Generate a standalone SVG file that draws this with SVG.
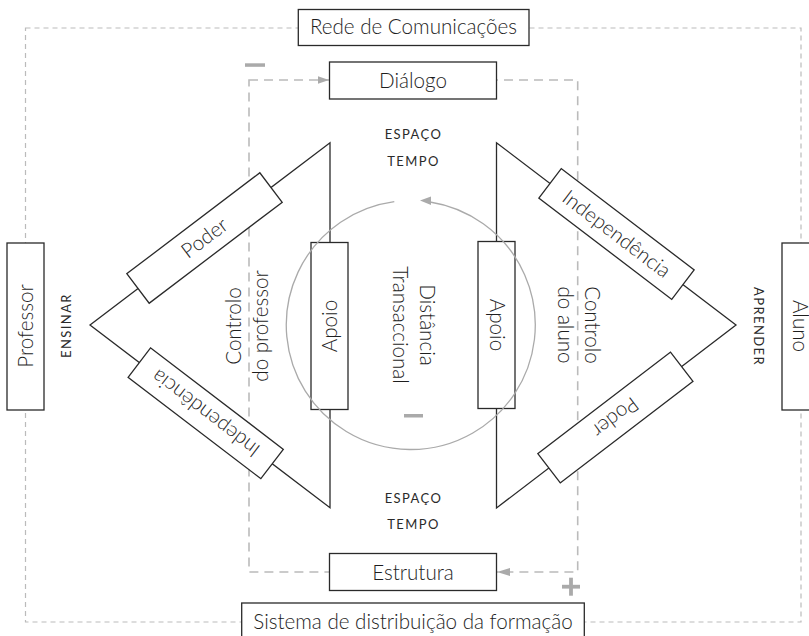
<svg xmlns="http://www.w3.org/2000/svg" width="809" height="636" viewBox="0 0 809 636">
<style>
.box{fill:#fff;stroke:#2a2a2a;stroke-width:1.3}
.t{font-family:Lato,"Liberation Sans",sans-serif;font-weight:300;font-size:20.6px;fill:#1e1e1e;text-anchor:middle}
.s{font-family:Lato,"Liberation Sans",sans-serif;font-size:13px;fill:#2a2a2a;text-anchor:middle;letter-spacing:1.4px}
.od{fill:none;stroke:#bbb;stroke-width:1.2;stroke-dasharray:5 4}
.id{fill:none;stroke:#bbb;stroke-width:1.6;stroke-dasharray:9 6}
.tri{fill:none;stroke:#2a2a2a;stroke-width:1.3}
.g{fill:#aaa}
.circ{fill:none;stroke:#aaa;stroke-width:1.3}
</style>
<rect width="809" height="636" fill="#fff"/>
<g id="connectors">
  <rect class="od" x="25.5" y="28" width="775.5" height="594"/>
  <rect class="id" x="249" y="80" width="328.7" height="492"/>
  <polygon class="g" points="329,80 318,76.3 318,83.7"/>
  <polygon class="g" points="497,572 510,568 510,576"/>
  <polygon class="tri" points="90,325 330,142.7 330,507.7"/>
  <polygon class="tri" points="736,325 496.5,142.7 496.5,508"/>
</g>
<g id="rede"><rect class="box" x="298.3" y="9.5" width="230.7" height="36"/><text class="t" x="413.5" y="34">Rede de Comunicações</text></g>
<g id="dialogo"><rect class="box" x="329.5" y="62" width="167" height="37"/><text class="t" x="413" y="88">Diálogo</text></g>
<g id="estrutura"><rect class="box" x="329.5" y="553.5" width="167" height="37"/><text class="t" x="413" y="579.5">Estrutura</text></g>
<g id="sistema"><rect class="box" x="241.7" y="603" width="342.6" height="37"/><text class="t" x="413" y="628.5">Sistema de distribuição da formação</text></g>
<g id="professor"><rect class="box" x="7" y="243" width="37" height="167"/><text class="t" transform="translate(33,326) rotate(-90)">Professor</text></g>
<g id="aluno"><rect class="box" x="782" y="243" width="37" height="167"/><text class="t" transform="translate(793,326) rotate(90)">Aluno</text></g>
<g id="poder-prof" transform="translate(204.5,238) rotate(-37.2)"><rect class="box" x="-83.5" y="-18.5" width="167" height="37"/><text class="t" y="7">Poder</text></g>
<g id="indep-prof" transform="translate(205.7,413.3) rotate(-142.64)"><rect class="box" x="-83.5" y="-18.5" width="167" height="37"/><text class="t" y="7">Independência</text></g>
<g id="indep-aluno" transform="translate(616.5,234) rotate(37.28)"><rect class="box" x="-83.5" y="-18.5" width="167" height="37"/><text class="t" y="7">Independência</text></g>
<g id="poder-aluno" transform="translate(615.4,417.5) rotate(142.6)"><rect class="box" x="-83.5" y="-18.5" width="167" height="37"/><text class="t" y="7">Poder</text></g>
<g id="apoio-prof"><rect class="box" x="311" y="242.5" width="37" height="167"/><text class="t" transform="translate(336.5,326) rotate(-90)">Apoio</text></g>
<g id="apoio-aluno"><rect class="box" x="478" y="241.5" width="37" height="167"/><text class="t" transform="translate(490,325) rotate(90)">Apoio</text></g>
<g id="distancia">
  <path class="circ" d="M430,202 A124.5,124.5 0 1 1 394.3,201.6"/>
  <polygon class="g" points="420,200.5 431,196.5 431,205"/>
  <text class="t" transform="translate(419.5,325) rotate(90)"><tspan x="0" y="0">Distância</tspan><tspan x="0" y="26.7">Transaccional</tspan></text>
  <rect class="g" x="404" y="414" width="19" height="3.5"/>
</g>
<g id="controlo-prof"><text class="t" transform="translate(241,326) rotate(-90)"><tspan x="0" y="0">Controlo</tspan><tspan x="0" y="26.5">do professor</tspan></text></g>
<g id="controlo-aluno"><text class="t" transform="translate(585,325) rotate(90)"><tspan x="0" y="0">Controlo</tspan><tspan x="0" y="27">do aluno</tspan></text></g>
<g id="ensinar"><text class="s" transform="translate(70.5,325.5) rotate(-90)">ENSINAR</text></g>
<g id="aprender"><text class="s" transform="translate(754,326.5) rotate(90)">APRENDER</text></g>
<g id="espaco-tempo-top"><text class="s" x="413.5" y="139.3">ESPAÇO</text><text class="s" x="413.5" y="166">TEMPO</text></g>
<g id="espaco-tempo-bottom"><text class="s" x="413.5" y="503.3">ESPAÇO</text><text class="s" x="413.5" y="529.3">TEMPO</text></g>
<g id="signs">
  <rect class="g" x="245" y="63.3" width="20" height="3.5"/>
  <rect class="g" x="562" y="584.8" width="18" height="3.8"/>
  <rect class="g" x="569.1" y="577.7" width="3.8" height="18"/>
</g>
</svg>
